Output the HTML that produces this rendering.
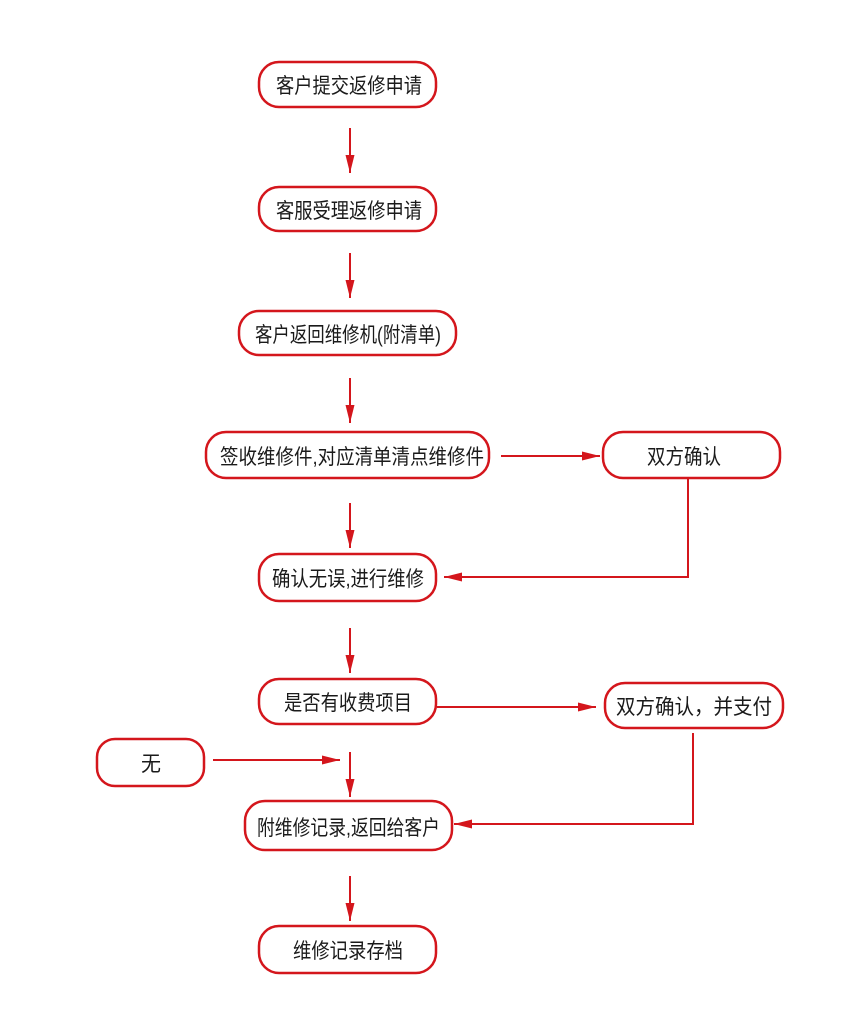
<!DOCTYPE html>
<html><head><meta charset="utf-8"><style>
html,body{margin:0;padding:0;background:#fff;}
svg{display:block;}
text{font-family:"Liberation Sans","Noto Sans CJK SC",sans-serif;font-size:21px;fill:#1a1a1a;}
</style></head><body>
<svg width="860" height="1033" viewBox="0 0 860 1033" xmlns="http://www.w3.org/2000/svg">
<defs>
<marker id="b" viewBox="0 0 20 10" refX="20" refY="5" markerWidth="18" markerHeight="9" markerUnits="userSpaceOnUse" orient="auto">
<path d="M0,0 L20,5 L0,10 Z" fill="#d4161c"/>
</marker>
</defs>
<g fill="none" stroke="#d4161c" stroke-width="2.5">
<rect x="259" y="62" width="177" height="45" rx="20"/>
<rect x="259" y="187" width="177" height="44" rx="20"/>
<rect x="239" y="311" width="217" height="44" rx="20"/>
<rect x="206" y="432" width="283" height="46" rx="20"/>
<rect x="259" y="554" width="177" height="47" rx="20"/>
<rect x="259" y="679" width="177" height="45" rx="20"/>
<rect x="97" y="739" width="107" height="47" rx="18"/>
<rect x="245" y="801" width="207" height="49" rx="20"/>
<rect x="259" y="926" width="177" height="47" rx="20"/>
<rect x="603" y="432" width="177" height="46" rx="20"/>
<rect x="605" y="683" width="178" height="45" rx="20"/>
</g>
<g stroke="#d4161c" stroke-width="2" fill="none">
<line x1="350" y1="128" x2="350" y2="173" marker-end="url(#b)"/>
<line x1="350" y1="253" x2="350" y2="298" marker-end="url(#b)"/>
<line x1="350" y1="378" x2="350" y2="423" marker-end="url(#b)"/>
<line x1="350" y1="503" x2="350" y2="548" marker-end="url(#b)"/>
<line x1="350" y1="628" x2="350" y2="673" marker-end="url(#b)"/>
<line x1="350" y1="752" x2="350" y2="797" marker-end="url(#b)"/>
<line x1="350" y1="876" x2="350" y2="921" marker-end="url(#b)"/>
<line x1="501" y1="456" x2="600" y2="456" marker-end="url(#b)"/>
<polyline points="688,479 688,577 444,577" marker-end="url(#b)"/>
<line x1="437" y1="707" x2="596" y2="707" marker-end="url(#b)"/>
<polyline points="693,733 693,824 454,824" marker-end="url(#b)"/>
<line x1="213" y1="760" x2="340" y2="760" marker-end="url(#b)"/>
</g>
<g>
<text x="276" y="93" textLength="146" lengthAdjust="spacingAndGlyphs">客户提交返修申请</text>
<text x="276" y="218" textLength="146" lengthAdjust="spacingAndGlyphs">客服受理返修申请</text>
<text x="255" y="342" textLength="186" lengthAdjust="spacingAndGlyphs">客户返回维修机(附清单)</text>
<text x="220" y="464" textLength="264" lengthAdjust="spacingAndGlyphs">签收维修件,对应清单清点维修件</text>
<text x="272" y="586" textLength="152" lengthAdjust="spacingAndGlyphs">确认无误,进行维修</text>
<text x="284" y="710" textLength="128" lengthAdjust="spacingAndGlyphs">是否有收费项目</text>
<text x="141" y="771" textLength="20" lengthAdjust="spacingAndGlyphs">无</text>
<text x="257" y="835" textLength="183" lengthAdjust="spacingAndGlyphs">附维修记录,返回给客户</text>
<text x="293" y="958" textLength="110" lengthAdjust="spacingAndGlyphs">维修记录存档</text>
<text x="647" y="464" textLength="74" lengthAdjust="spacingAndGlyphs">双方确认</text>
<text x="616" y="714" textLength="156" lengthAdjust="spacingAndGlyphs">双方确认，并支付</text>
</g>
</svg>
</body></html>
